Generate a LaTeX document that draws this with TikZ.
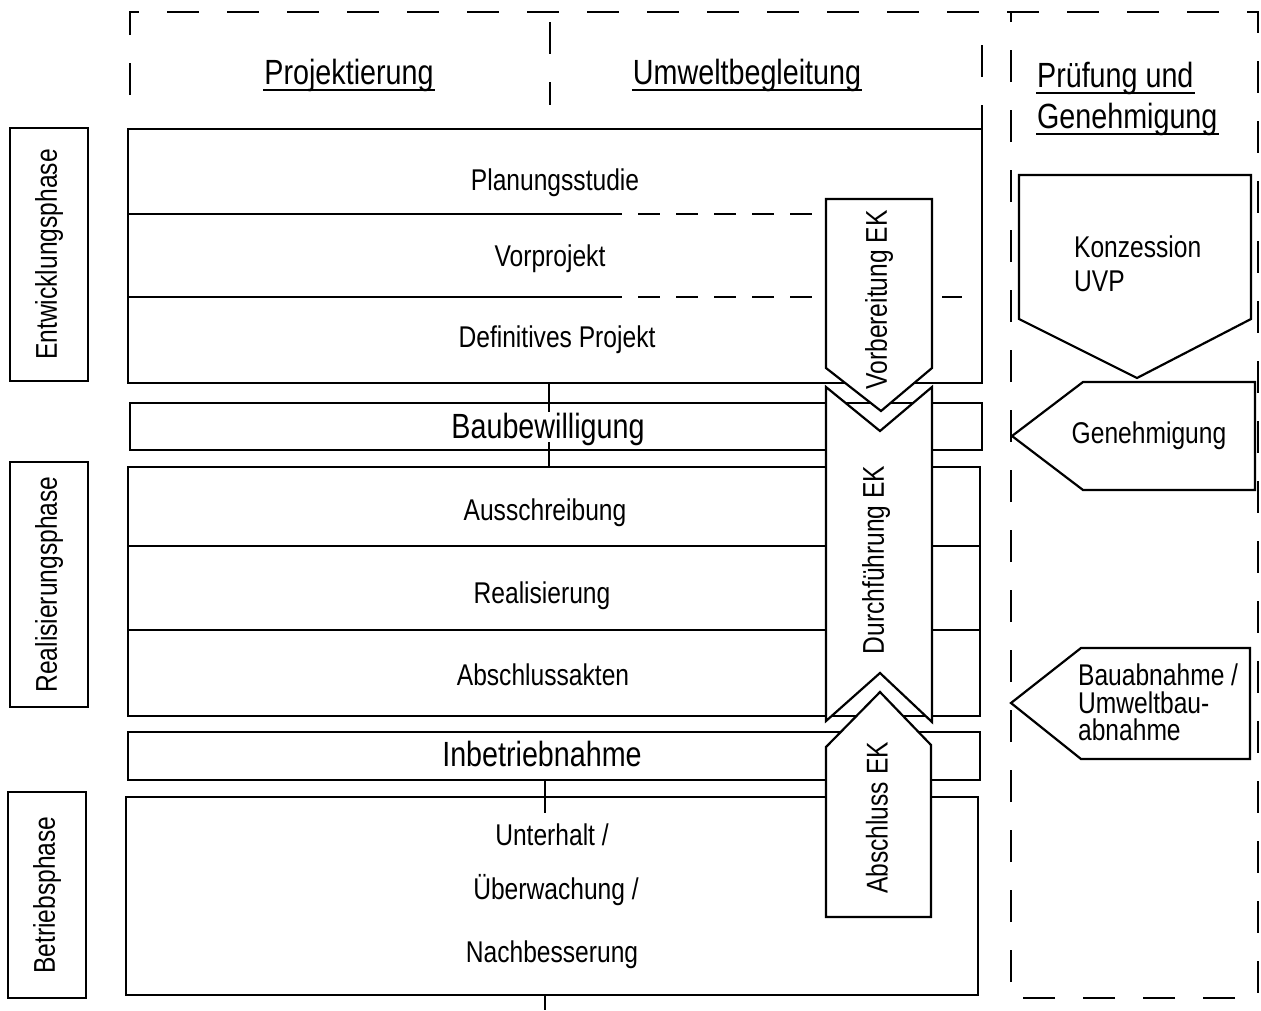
\documentclass[tikz,border=0pt]{standalone}
\usepackage{fontspec}
\setmainfont{Liberation Sans}[FakeStretch=0.82]
\begin{document}
\begin{tikzpicture}[x=1pt,y=-1pt,line width=2.2pt,line join=miter,
  lbl/.style={inner sep=0pt,font=\fontsize{30}{34}\selectfont},
  head/.style={inner sep=0pt,font=\fontsize{35}{40}\selectfont,anchor=base},
  stagebox/.style={draw,rectangle,inner sep=0pt,outer sep=0pt,anchor=north west},
  phasebox/.style={draw,rectangle,inner sep=0pt,outer sep=0pt,anchor=north west,line width=2pt},
  chev/.style={draw,fill=white,line width=2.2pt},
  frame/.style={line width=1.8pt,dash pattern=on 32pt off 28pt},
  subdash/.style={line width=2pt,dash pattern=on 22pt off 16pt},
  uline/.style={line width=1.6pt},
  tick/.style={line width=1.6pt}]
\useasboundingbox (0,0) rectangle (1261,1010);
\fill[white] (0,0) rectangle (1261,1010);

% column frame
\draw[frame] (130,95) -- (130,12) -- (1258,12) -- (1258,998) -- (1011,998) -- (1011,12);
\draw[frame] (550,22) -- (550,105);
\draw[frame] (982,45) -- (982,129);

% column headers
\node[head] (hproj) at (349,84) {Projektierung};
\node[head] (humw) at (747,84) {Umweltbegleitung};
\node[head,anchor=base west] (hpr1) at (1036,87) {Prüfung und};
\node[head,anchor=base west] (hpr2) at (1036,128) {Genehmigung};
\foreach \h in {hproj,humw,hpr1,hpr2}
  \draw[uline] ([yshift=-6pt]\h.base west) -- ([yshift=-6pt]\h.base east);

% phase labels
\node[phasebox,minimum width=78,minimum height=253] (pe) at (10,128) {};
\node[lbl,rotate=90] (pet) at (pe.center) {Entwicklungsphase};
\node[phasebox,minimum width=78,minimum height=245] (pr) at (10,462) {};
\node[lbl,rotate=90] (prt) at (pr.center) {Realisierungsphase};
\node[phasebox,minimum width=78,minimum height=206] (pb) at (8,792) {};
\node[lbl,rotate=90] (pbt) at (pb.center) {Betriebsphase};

% project stages
\node[stagebox,minimum width=854,minimum height=254] (dev) at (128,129) {};
\draw (128,214) -- (600,214);
\draw[subdash] (600,214) -- (936,214);
\draw (128,297) -- (600,297);
\draw[subdash] (600,297) -- (962,297);
\node[lbl,anchor=base] (ps) at (555,190) {Planungsstudie};
\node[lbl,anchor=base] (vp) at (550,266) {Vorprojekt};
\node[lbl,anchor=base] (dp) at (557,347) {Definitives Projekt};

\node[stagebox,minimum width=852,minimum height=47] (bau) at (130,403) {};
\node[inner sep=0pt,font=\fontsize{35}{40}\selectfont,anchor=base] (baut) at (548,438) {Baubewilligung};

\node[stagebox,minimum width=852,minimum height=249] (real) at (128,467) {};
\draw (128,546) -- (980,546);
\draw (128,630) -- (980,630);
\node[lbl,anchor=base] (as) at (545,520) {Ausschreibung};
\node[lbl,anchor=base] (re) at (542,603) {Realisierung};
\node[lbl,anchor=base] (ab) at (543,685) {Abschlussakten};

\node[stagebox,minimum width=852,minimum height=48] (inb) at (128,732) {};
\node[inner sep=0pt,font=\fontsize{35}{40}\selectfont,anchor=base] (inbt) at (542,766) {Inbetriebnahme};

\node[stagebox,minimum width=852,minimum height=198] (ops) at (126,797) {};
\node[lbl,anchor=base] (o1) at (552,845) {Unterhalt /};
\node[lbl,anchor=base] (o2) at (556,899) {Überwachung /};
\node[lbl,anchor=base] (o3) at (552,962) {Nachbesserung};

% links between stages
\coordinate (k1) at (549,412);
\coordinate (k2) at (549,442);
\coordinate (k3) at (545,813);
\coordinate (k4) at (545,1010);
\draw[tick] (dev.south -| k1) -- (k1);
\draw[tick] (k2) -- (k2 |- real.north);
\draw[tick] (inb.south -| k3) -- (k3);
\draw[tick] (ops.south -| k4) -- (k4);

% environmental monitoring (EK) arrows
\draw[chev] (826,387) -- (880,431) -- (932,387) -- (932,722) -- (880,673) -- (826,721) -- cycle;
\draw[chev] (826,199) -- (932,199) -- (932,368) -- (881,411) -- (826,368) -- cycle;
\draw[chev] (880,692) -- (931,745) -- (931,917) -- (826,917) -- (826,747) -- cycle;
\node[lbl,rotate=90] (vek) at (879,300) {Vorbereitung EK};
\node[lbl,rotate=90] (dek) at (876,560) {Durchführung EK};
\node[lbl,rotate=90] (aek) at (877,818) {Abschluss EK};

% review and approval
\draw[chev] (1019,175) -- (1251,175) -- (1251,319) -- (1137,378) -- (1019,319) -- cycle;
\node[lbl,align=left,anchor=north west] (kuvp) at (1073,235) {Konzession\\UVP};
\draw[chev] (1012,436) -- (1083,382) -- (1255,382) -- (1255,490) -- (1083,490) -- cycle;
\node[lbl,anchor=base] (gen) at (1149,443) {Genehmigung};
\draw[chev] (1011,703) -- (1081,648) -- (1250,648) -- (1250,759) -- (1081,759) -- cycle;
\node[inner sep=0pt,font=\fontsize{30}{27.5}\selectfont,align=left,anchor=north west] (bab) at (1077,663) {Bauabnahme /\\Umweltbau-\\abnahme};
\end{tikzpicture}
\end{document}
